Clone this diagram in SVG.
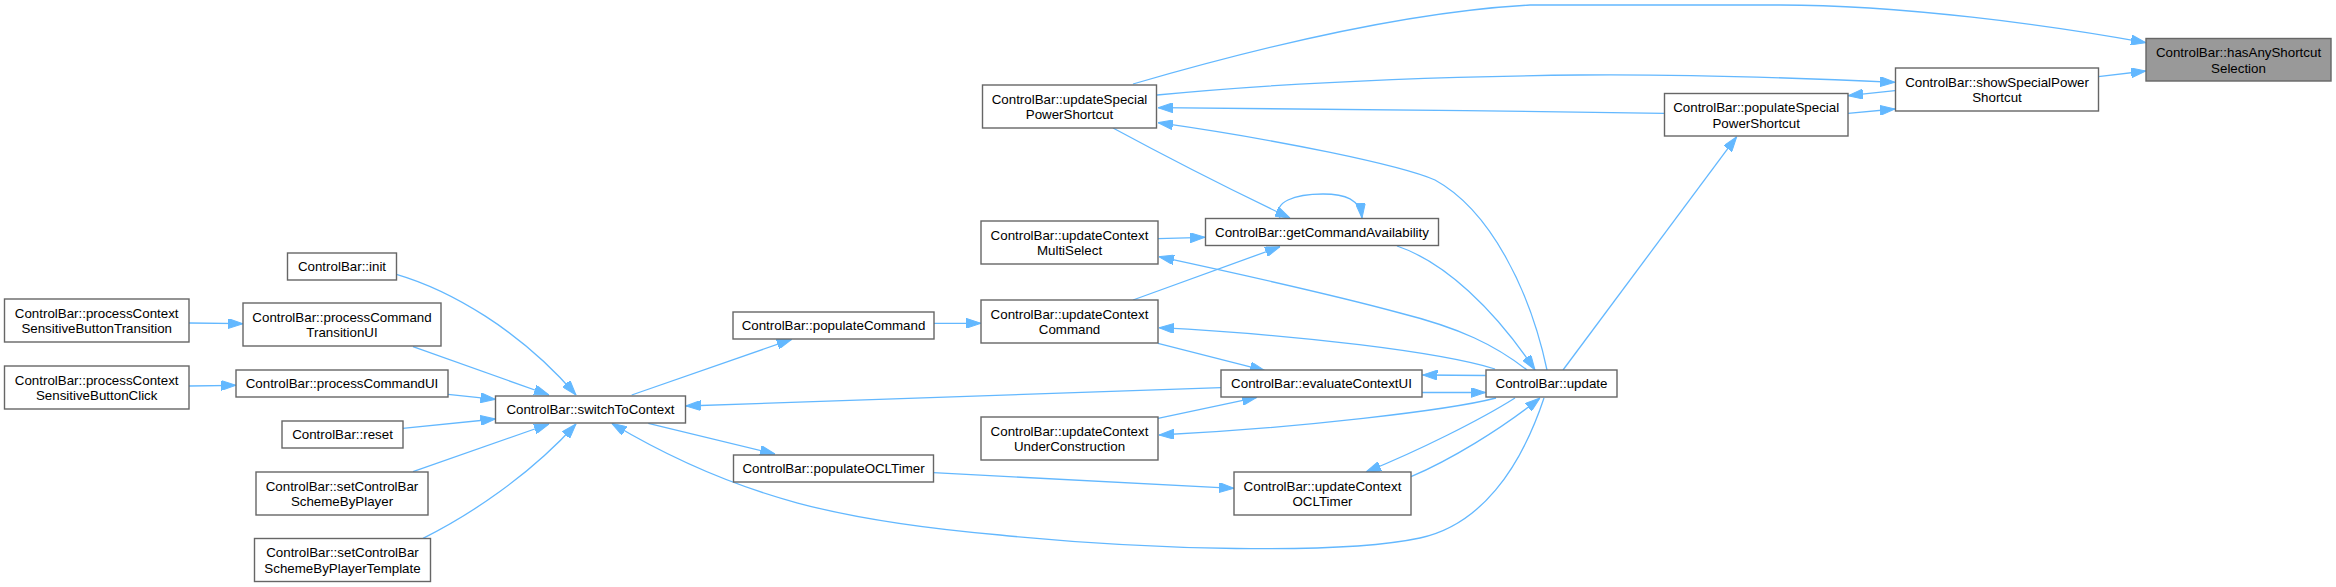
<svg xmlns="http://www.w3.org/2000/svg" width="2336" height="587" viewBox="0 0 2336 587">
<style>
.n rect{fill:#ffffff;stroke:#666666;stroke-width:1.4}
.n.root rect{fill:#999999}
.n text{font-family:"Liberation Sans",Arial,Helvetica,sans-serif;font-size:13.33px;fill:#000000;text-anchor:middle}
.e path{fill:none;stroke:#63b8ff;stroke-width:1.3;marker-end:url(#ah)}
</style>
<defs>
<marker id="ah" viewBox="0 0 15 10" refX="15" refY="5" markerWidth="15" markerHeight="10" markerUnits="userSpaceOnUse" orient="auto">
<path d="M0,0 L15,5 L0,10 z" fill="#63b8ff" stroke="#63b8ff" stroke-width="1"/>
</marker>
</defs>
<rect x="0" y="0" width="2336" height="587" fill="#ffffff"/>
<g id="edges" class="e">
<path d="M1133,84 C1250,50 1400,12 1530,5 L1780,5 C1900,5 2050,25 2146,42.7"/>
<path d="M1157,95 C1260,85 1400,77 1580,75 C1700,74 1800,78 1895,82.3"/>
<path d="M1664,113.3 C1500,111 1300,108 1158,107.7"/>
<path d="M1895,90.7 L1848,95.7"/>
<path d="M1848,113.3 L1895,109"/>
<path d="M2098.3,76.7 L2146,71"/>
<path d="M1563,370 L1736.7,136.7"/>
<path d="M1547,370 C1530,290 1490,210 1435,180 C1400,165 1280,140 1158,122.7"/>
<path d="M1113,128 C1150,148 1200,175 1290,218"/>
<path d="M1280,218 C1272,202 1295,194 1323,194 C1345,194 1360,199 1362,218"/>
<path d="M1158,238.7 L1205,237.3"/>
<path d="M1133,300 L1280,246.7"/>
<path d="M1527,370 C1495,345 1460,328 1400,313 C1330,294 1230,272 1159,256.7"/>
<path d="M1397,246 C1445,262 1495,310 1535,370"/>
<path d="M1495,369 C1440,352 1300,335 1159,327.7"/>
<path d="M1158,343.3 L1265,370.7"/>
<path d="M934,323.3 L981,323.3"/>
<path d="M1422,392.5 L1485.5,392.5"/>
<path d="M1485.5,375.5 L1422.5,375"/>
<path d="M1158,418.3 L1257,397.3"/>
<path d="M1496,398 C1450,410 1300,428 1159,435"/>
<path d="M1515,398 C1480,420 1420,450 1366,472"/>
<path d="M1411,476.7 C1450,460 1500,430 1540,398"/>
<path d="M1544,398 C1520,470 1480,525 1420,538 C1340,555 1150,550 1000,535 C850,522 740,500 611.7,423.3"/>
<path d="M1221,387.7 L685.7,406"/>
<path d="M631.7,395 L791.7,339.3"/>
<path d="M648.3,423.3 L775,454"/>
<path d="M933.3,472.7 L1234,488.3"/>
<path d="M396.4,274.3 C450,290 520,330 576,395"/>
<path d="M413,346.7 L549,395"/>
<path d="M448,394.3 L495.5,399.3"/>
<path d="M402.7,428.3 L495.5,419"/>
<path d="M413,471.7 L549,424"/>
<path d="M423,538.3 C470,515 530,475 576,424"/>
<path d="M189,323 L243,323.7"/>
<path d="M189,386 L236,385.3"/>
</g>
<g id="hasAnyShortcutSelection" class="n root"><rect x="2146" y="38.5" width="185" height="42.5"/><text x="2238.5" y="57">ControlBar::hasAnyShortcut</text><text x="2238.5" y="72.5">Selection</text></g>
<g id="showSpecialPowerShortcut" class="n"><rect x="1895.5" y="68" width="203" height="43"/><text x="1997" y="86.5">ControlBar::showSpecialPower</text><text x="1997" y="102">Shortcut</text></g>
<g id="populateSpecialPowerShortcut" class="n"><rect x="1664.5" y="93.5" width="183.5" height="42.5"/><text x="1756.2" y="112">ControlBar::populateSpecial</text><text x="1756.2" y="127.5">PowerShortcut</text></g>
<g id="updateSpecialPowerShortcut" class="n"><rect x="982.5" y="85" width="174" height="43"/><text x="1069.5" y="103.5">ControlBar::updateSpecial</text><text x="1069.5" y="119">PowerShortcut</text></g>
<g id="getCommandAvailability" class="n"><rect x="1205.5" y="218.5" width="233" height="27"/><text x="1322" y="236.5">ControlBar::getCommandAvailability</text></g>
<g id="updateContextMultiSelect" class="n"><rect x="981" y="221" width="177" height="43"/><text x="1069.5" y="239.5">ControlBar::updateContext</text><text x="1069.5" y="255">MultiSelect</text></g>
<g id="updateContextCommand" class="n"><rect x="981" y="300" width="177" height="43"/><text x="1069.5" y="318.5">ControlBar::updateContext</text><text x="1069.5" y="334">Command</text></g>
<g id="evaluateContextUI" class="n"><rect x="1221" y="370" width="201" height="27"/><text x="1321.5" y="388">ControlBar::evaluateContextUI</text></g>
<g id="update" class="n"><rect x="1486" y="370" width="131" height="27"/><text x="1551.5" y="388">ControlBar::update</text></g>
<g id="updateContextUnderConstruction" class="n"><rect x="981" y="417" width="177" height="43"/><text x="1069.5" y="435.5">ControlBar::updateContext</text><text x="1069.5" y="451">UnderConstruction</text></g>
<g id="updateContextOCLTimer" class="n"><rect x="1234" y="472" width="177" height="43"/><text x="1322.5" y="490.5">ControlBar::updateContext</text><text x="1322.5" y="506">OCLTimer</text></g>
<g id="populateCommand" class="n"><rect x="733" y="312" width="201" height="27"/><text x="833.5" y="330">ControlBar::populateCommand</text></g>
<g id="populateOCLTimer" class="n"><rect x="733.5" y="455" width="200" height="27"/><text x="833.5" y="473">ControlBar::populateOCLTimer</text></g>
<g id="switchToContext" class="n"><rect x="495.5" y="396" width="190" height="27"/><text x="590.5" y="414">ControlBar::switchToContext</text></g>
<g id="init" class="n"><rect x="287.5" y="253" width="109" height="27"/><text x="342" y="271">ControlBar::init</text></g>
<g id="processCommandTransitionUI" class="n"><rect x="243" y="303" width="198" height="43"/><text x="342" y="321.5">ControlBar::processCommand</text><text x="342" y="337">TransitionUI</text></g>
<g id="processCommandUI" class="n"><rect x="236" y="370" width="212" height="27"/><text x="342" y="388">ControlBar::processCommandUI</text></g>
<g id="reset" class="n"><rect x="282" y="421" width="121" height="27"/><text x="342.5" y="439">ControlBar::reset</text></g>
<g id="setControlBarSchemeByPlayer" class="n"><rect x="256" y="472" width="172" height="43"/><text x="342" y="490.5">ControlBar::setControlBar</text><text x="342" y="506">SchemeByPlayer</text></g>
<g id="setControlBarSchemeByPlayerTemplate" class="n"><rect x="254.5" y="538.5" width="176" height="43"/><text x="342.5" y="557">ControlBar::setControlBar</text><text x="342.5" y="572.5">SchemeByPlayerTemplate</text></g>
<g id="processContextSensitiveButtonTransition" class="n"><rect x="4.5" y="299" width="184.5" height="43"/><text x="96.7" y="317.5">ControlBar::processContext</text><text x="96.7" y="333">SensitiveButtonTransition</text></g>
<g id="processContextSensitiveButtonClick" class="n"><rect x="4.5" y="366" width="184.5" height="43"/><text x="96.7" y="384.5">ControlBar::processContext</text><text x="96.7" y="400">SensitiveButtonClick</text></g>
</svg>
